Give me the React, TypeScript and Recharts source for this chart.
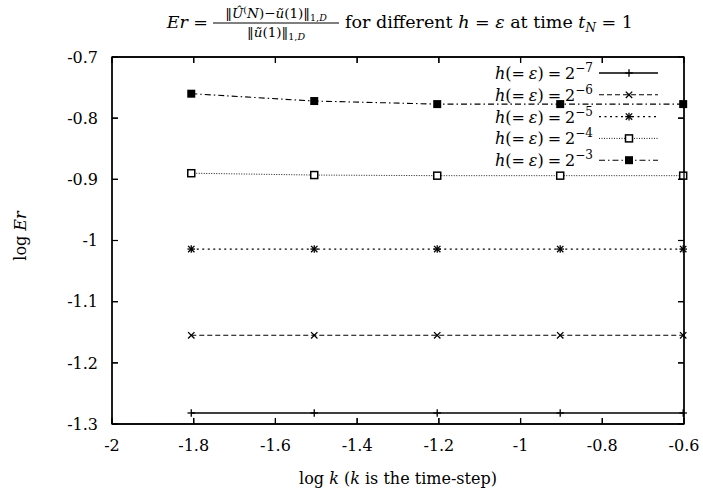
import { CartesianGrid, Legend, Line, LineChart, ReferenceArea, XAxis, YAxis } from 'recharts';

const logK = [-1.806, -1.505, -1.204, -0.903, -0.602];
const erH7 = [-1.282, -1.282, -1.282, -1.282, -1.282];
const erH6 = [-1.155, -1.155, -1.155, -1.155, -1.155];
const erH5 = [-1.014, -1.014, -1.014, -1.014, -1.014];
const erH4 = [-0.89, -0.893, -0.894, -0.894, -0.894];
const erH3 = [-0.76, -0.772, -0.777, -0.777, -0.777];
const xTicks = [-2, -1.8, -1.6, -1.4, -1.2, -1, -0.8, -0.6];
const yTicks = [-1.3, -1.2, -1.1, -1, -0.9, -0.8, -0.7];

const FONT = "'DejaVu Serif', 'Liberation Serif', serif";

const W = 703;
const H = 496;
const margin = { top: 57, right: 19, bottom: 42, left: 52 };
const X_AXIS_H = 30;
const Y_AXIS_W = 60;
const PLOT_W = W - margin.left - margin.right - Y_AXIS_W;
const PLOT_H = H - margin.top - margin.bottom - X_AXIS_H;
const TICK = 6;
const X_GAP = 16;
const Y_GAP = 14;
const LEGEND_AT = { left: 440, top: 61 };

type MarkerKind = 'plus' | 'cross' | 'star' | 'openSquare' | 'filledSquare';

const series: { key: string; exp: string; dash?: string; marker: MarkerKind; width: number }[] = [
  { key: 'h7', exp: '−7', marker: 'plus', width: 1.3 },
  { key: 'h6', exp: '−6', dash: '5 3', marker: 'cross', width: 1.1 },
  { key: 'h5', exp: '−5', dash: '2 3.5', marker: 'star', width: 1.3 },
  { key: 'h4', exp: '−4', dash: '1 1.5', marker: 'openSquare', width: 0.9 },
  { key: 'h3', exp: '−3', dash: '6 3 1.5 3', marker: 'filledSquare', width: 1.1 },
];

const data = logK.map((k, i) => ({
  k,
  h7: erH7[i],
  h6: erH6[i],
  h5: erH5[i],
  h4: erH4[i],
  h3: erH3[i],
}));

function Marker({ kind, cx, cy }: { kind: MarkerKind; cx: number; cy: number }) {
  const s = 3.8;
  if (kind === 'plus') {
    return (
      <g stroke="#000" strokeWidth={1.3}>
        <line x1={cx - s} y1={cy} x2={cx + s} y2={cy} />
        <line x1={cx} y1={cy - s} x2={cx} y2={cy + s} />
      </g>
    );
  }
  if (kind === 'cross') {
    return (
      <g stroke="#000" strokeWidth={1.3}>
        <line x1={cx - 3.2} y1={cy - 3.2} x2={cx + 3.2} y2={cy + 3.2} />
        <line x1={cx - 3.2} y1={cy + 3.2} x2={cx + 3.2} y2={cy - 3.2} />
      </g>
    );
  }
  if (kind === 'star') {
    return (
      <g stroke="#000" strokeWidth={1.3}>
        <line x1={cx - 3.2} y1={cy - 3.2} x2={cx + 3.2} y2={cy + 3.2} />
        <line x1={cx - 3.2} y1={cy + 3.2} x2={cx + 3.2} y2={cy - 3.2} />
        <line x1={cx - s} y1={cy} x2={cx + s} y2={cy} />
        <line x1={cx} y1={cy - s} x2={cx} y2={cy + s} />
      </g>
    );
  }
  if (kind === 'openSquare') {
    return <rect x={cx - 3.5} y={cy - 3.5} width={7} height={7} fill="#fff" stroke="#000" strokeWidth={1.5} />;
  }
  return <rect x={cx - 4} y={cy - 4} width={8} height={8} fill="#000" />;
}

const fmt = (v: number) => String(parseFloat(v.toFixed(1)));

// label + inward ticks on bottom and top border, last tick closes the right border
function XTick(p: any) {
  const axisY = p.y - X_GAP;
  const topY = axisY - PLOT_H;
  const last = p.payload.value === xTicks[xTicks.length - 1];
  return (
    <g>
      <line x1={p.x} y1={axisY} x2={p.x} y2={axisY - TICK} stroke="#000" strokeWidth={1.2} />
      <line x1={p.x} y1={topY} x2={p.x} y2={topY + TICK} stroke="#000" strokeWidth={1.2} />
      {last && <line x1={p.x} y1={axisY} x2={p.x} y2={topY} stroke="#000" strokeWidth={1.3} />}
      <text x={p.x} y={p.y} dy="0.71em" textAnchor="middle" fill="#000" fontSize={16} fontFamily={FONT}>
        {fmt(p.payload.value)}
      </text>
    </g>
  );
}

// label + inward ticks on left and right border, top tick closes the top border
function YTick(p: any) {
  const axisX = p.x + Y_GAP;
  const rightX = axisX + PLOT_W;
  const top = p.payload.value === yTicks[yTicks.length - 1];
  return (
    <g>
      <line x1={axisX} y1={p.y} x2={axisX + TICK} y2={p.y} stroke="#000" strokeWidth={1.2} />
      <line x1={rightX} y1={p.y} x2={rightX - TICK} y2={p.y} stroke="#000" strokeWidth={1.2} />
      {top && <line x1={axisX} y1={p.y} x2={rightX} y2={p.y} stroke="#000" strokeWidth={1.3} />}
      <text x={p.x} y={p.y} dy="0.355em" textAnchor="end" fill="#000" fontSize={16} fontFamily={FONT}>
        {fmt(p.payload.value)}
      </text>
    </g>
  );
}

// title and axis titles, in page coordinates
function Titles() {
  return (
    <g fontFamily={FONT} fill="#000">
      <text x={208} y={28} textAnchor="end" fontSize={17.5}>
        <tspan fontStyle="italic">Er</tspan> =
      </text>
      <text x={276} y={18} textAnchor="middle" fontSize={13.5}>
        ‖<tspan fontStyle="italic">Û</tspan>
        <tspan dy={-5} fontSize={9.5}>(</tspan>
        <tspan dy={5} fontStyle="italic">N</tspan>)−<tspan fontStyle="italic">ũ</tspan>(1)‖
        <tspan dy={3} fontSize={9.5}>1,</tspan>
        <tspan fontSize={9.5} fontStyle="italic">D</tspan>
      </text>
      <line x1={213} y1={23} x2={339} y2={23} stroke="#000" strokeWidth={1} />
      <text x={276} y={37} textAnchor="middle" fontSize={13.5}>
        ‖<tspan fontStyle="italic">ũ</tspan>(1)‖
        <tspan dy={3} fontSize={9.5}>1,</tspan>
        <tspan fontSize={9.5} fontStyle="italic">D</tspan>
      </text>
      <text x={345} y={28} fontSize={17.5}>
        for different <tspan fontStyle="italic">h</tspan> = <tspan fontStyle="italic">ε</tspan> at time{' '}
        <tspan fontStyle="italic">t</tspan>
        <tspan dy={4} fontSize={12} fontStyle="italic">N</tspan>
        <tspan dy={-4}> = 1</tspan>
      </text>
      <text x={398} y={484} textAnchor="middle" fontSize={16}>
        log <tspan fontStyle="italic">k</tspan> (<tspan fontStyle="italic">k</tspan> is the time-step)
      </text>
      <text x={20} y={236} dy="0.35em" textAnchor="middle" fontSize={16} transform="rotate(-90 20 236)">
        log <tspan fontStyle="italic">Er</tspan>
      </text>
    </g>
  );
}

function LegendBox() {
  return (
    <svg width={240} height={115} style={{ overflow: 'visible', display: 'block' }}>
      <g transform={`translate(${-LEGEND_AT.left}, ${-LEGEND_AT.top})`}>
        <Titles />
      </g>
      {series.map((s, i) => {
        const y = 12 + i * 21.8;
        return (
          <g key={s.key}>
            <text x={153} y={y + 6} textAnchor="end" fontFamily={FONT} fontSize={16} fill="#000">
              <tspan fontStyle="italic">h</tspan>
              <tspan>(=</tspan>
              <tspan dx={4} fontStyle="italic">ε</tspan>
              <tspan>)</tspan>
              <tspan dx={4}>=</tspan>
              <tspan dx={4}>2</tspan>
              <tspan dy={-7} fontSize={12}>{s.exp}</tspan>
            </text>
            <line x1={159} y1={y} x2={218} y2={y} stroke="#000" strokeWidth={s.width} strokeDasharray={s.dash} />
            <Marker kind={s.marker} cx={189} cy={y} />
          </g>
        );
      })}
    </svg>
  );
}

export default function App() {
  return (
    <div style={{ position: 'absolute', left: 0, top: 0, width: W, height: H, background: '#fff', fontFamily: FONT }}>
      <LineChart width={W} height={H} data={data} margin={margin}>
        {/* tick marks at both ends of each grid line */}
        <CartesianGrid stroke="#000" strokeWidth={1.2} strokeDasharray={`${TICK} ${PLOT_W - 2 * TICK}`} vertical={false} />
        <CartesianGrid stroke="#000" strokeWidth={1.2} strokeDasharray={`${TICK} ${PLOT_H - 2 * TICK}`} horizontal={false} />
        <ReferenceArea x1={-2} x2={-0.6} y1={-1.3} y2={-0.7} fill="none" stroke="#000" strokeWidth={1.3} ifOverflow="visible" />
        <XAxis
          dataKey="k"
          type="number"
          domain={[-2, -0.6]}
          ticks={xTicks}
          height={X_AXIS_H}
          tickLine={false}
          tickSize={0}
          tickMargin={X_GAP}
          axisLine={{ stroke: '#000', strokeWidth: 1.3 }}
          tick={XTick}
        />
        <YAxis
          type="number"
          domain={[-1.3, -0.7]}
          ticks={yTicks}
          width={Y_AXIS_W}
          tickLine={false}
          tickSize={0}
          tickMargin={Y_GAP}
          axisLine={{ stroke: '#000', strokeWidth: 1.3 }}
          tick={YTick}
        />
        <Legend
          layout="vertical"
          align="center"
          verticalAlign="middle"
          wrapperStyle={{ top: LEGEND_AT.top, left: LEGEND_AT.left, width: 240, height: 115 }}
          content={() => <LegendBox />}
        />
        {series.map((s) => (
          <Line
            key={s.key}
            dataKey={s.key}
            stroke="#000"
            strokeWidth={s.width}
            strokeDasharray={s.dash}
            isAnimationActive={false}
            dot={(p: any) => <Marker key={`${s.key}-${p.index}`} kind={s.marker} cx={p.cx} cy={p.cy} />}
            activeDot={false}
          />
        ))}
      </LineChart>
    </div>
  );
}
